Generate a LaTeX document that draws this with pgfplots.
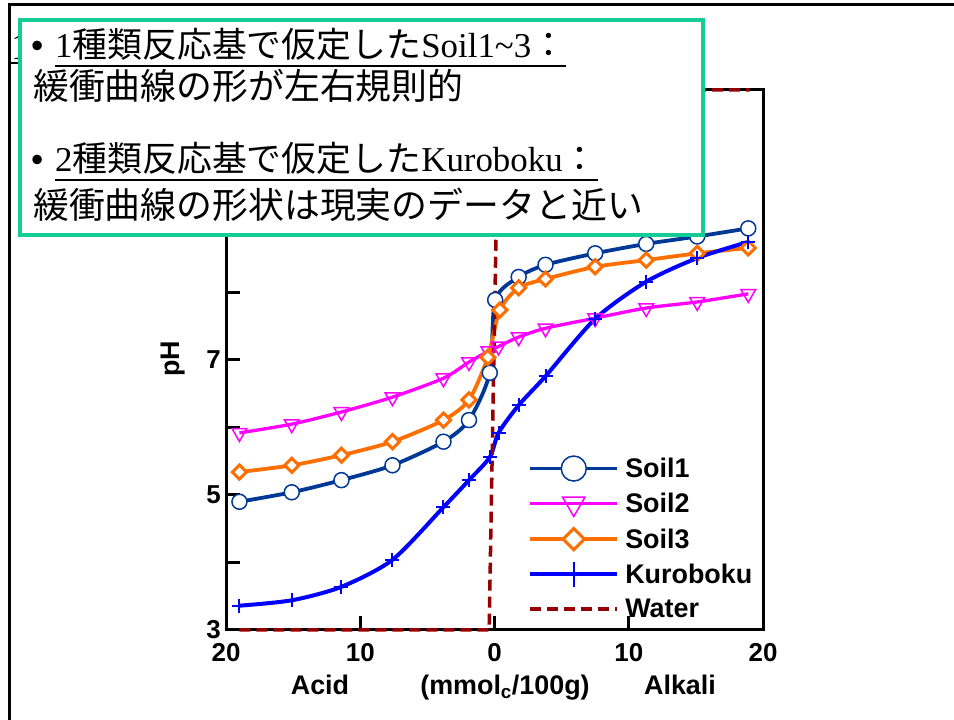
\documentclass[border=0pt]{standalone}
\usepackage{fontspec}
\usepackage{pgfplots}
\pgfplotsset{compat=1.18}
\setmainfont{Liberation Sans}
\newfontfamily\jp{Noto Sans CJK JP}
\newfontfamily\tms{Liberation Serif}

\definecolor{soilone}{RGB}{0,56,150}
\definecolor{soiltwo}{RGB}{255,0,255}
\definecolor{soilthree}{RGB}{255,110,0}
\definecolor{kuro}{RGB}{0,0,255}
\definecolor{water}{RGB}{150,0,0}
\definecolor{boxline}{RGB}{20,204,150}

\begin{document}
\begin{tikzpicture}[x=1bp,y=1bp]
\useasboundingbox (0,0) rectangle (954,720);
% slide frame
\draw[line width=3bp] (9,0) -- (9,715) -- (954,715);
% partly hidden heading behind the note box
\node[anchor=base west, inner sep=0pt, font=\tms\fontsize{38}{38}\selectfont] (h1) at (11,660) {1};
\draw[line width=1.5bp] ([yshift=-3bp]h1.base west) -- ([yshift=-3bp]h1.base east);

\begin{axis}[
  at={(226bp,90bp)}, anchor=south west,
  scale only axis, width=537bp, height=540bp,
  xmin=-20, xmax=20, ymin=3, ymax=11,
  clip=false,
  axis line style={line width=3bp},
  tick align=inside, tick pos=left,
  major tick length=14bp,
  every tick/.style={black, line width=3bp},
  xtick={-20,-10,0,10,20}, xticklabels={20,10,0,10,20},
  ytick={3,...,11}, yticklabels={3,,5,,7,,,,},
  ticklabel style={font=\fontsize{26}{26}\selectfont\bfseries},
  xticklabel style={yshift=-10bp},
  yticklabel style={inner sep=0pt, xshift=-5bp},
  legend style={draw=none, fill=none, at={(axis cs:2.5,5.58)}, anchor=north west,
    inner sep=0pt, row sep=12bp, column sep=6bp,
    font=\fontsize{27}{27}\selectfont\bfseries, nodes={inner sep=0pt}},
  legend cell align=left,
  legend image code/.code={\draw[mark repeat=2,mark phase=2,#1]
    plot coordinates {(0bp,0bp) (43.5bp,0bp) (87bp,0bp)};},
]
\addplot[soilone, line width=3.8bp, smooth, tension=0.45, mark=*, mark size=7.5bp,
  mark options={fill=white, draw=soilone, line width=1.5bp},
  legend image post style={mark size=12.5bp}] coordinates {
  (-19,4.90) (-15.1,5.04) (-11.4,5.22) (-7.6,5.44) (-3.8,5.79) (-1.9,6.11) (-0.35,6.81)
  (0.05,7.89) (1.8,8.23) (3.8,8.41) (7.5,8.58) (11.3,8.72) (15.1,8.83) (18.9,8.95)};
\addplot[soiltwo, line width=3.3bp, smooth, tension=0.45, mark=triangle, mark size=8.5bp,
  mark options={rotate=180, line width=1.5bp},
  legend image post style={mark size=13bp}] coordinates {
  (-19,5.92) (-15.1,6.05) (-11.4,6.23) (-7.6,6.45) (-3.8,6.73) (-1.9,6.97) (-0.45,7.13)
  (0.3,7.20) (1.8,7.34) (3.8,7.47) (7.5,7.62) (11.3,7.77) (15.1,7.86) (18.9,7.98)};
\addplot[soilthree, line width=3.8bp, smooth, tension=0.45, mark=square*, mark size=5bp,
  mark options={rotate=45, fill=white, draw=soilthree, line width=3bp},
  legend image post style={mark size=7.5bp}] coordinates {
  (-19,5.34) (-15.1,5.44) (-11.4,5.59) (-7.6,5.79) (-3.8,6.11) (-1.9,6.41) (-0.5,7.04)
  (0.4,7.74) (1.8,8.07) (3.8,8.20) (7.5,8.38) (11.3,8.48) (15.1,8.58) (18.9,8.66)};
\addplot[kuro, line width=4bp, smooth, tension=0.45, mark=+, mark size=7bp,
  mark options={line width=2bp},
  legend image post style={mark size=12.5bp}] coordinates {
  (-19,3.36) (-15.1,3.44) (-11.4,3.64) (-7.6,4.04) (-3.8,4.82) (-1.9,5.22) (-0.35,5.56)
  (0.3,5.92) (1.8,6.33) (3.8,6.76) (7.5,7.61) (11.3,8.16) (15.1,8.51) (18.9,8.75)};
\addplot[water, line width=3.5bp, sharp plot, dash pattern=on 11bp off 6bp] coordinates {
  (-19,3) (-0.4,3) (0.3,11) (19,11)};
\legend{Soil1,Soil2,Soil3,Kuroboku,Water}
\end{axis}

% axis captions
\node[anchor=base, font=\fontsize{27}{27}\selectfont\bfseries] at (320,25) {Acid};
\node[anchor=base, font=\fontsize{27}{27}\selectfont\bfseries] at (505,25) {(mmol\textsubscript{c}/100g)};
\node[anchor=base, font=\fontsize{27}{27}\selectfont\bfseries] at (680,25) {Alkali};
\node[anchor=base, rotate=90, font=\fontsize{27}{27}\selectfont\bfseries] at (179,361) {pH};

% note box
\draw[boxline, line width=3.5bp, fill=white] (20,700) rectangle (703,485);
\node[anchor=base west, inner sep=0pt, font=\fontsize{35}{35}\selectfont] at (31,662) {•};
\node[anchor=base west, inner sep=0pt, font=\fontsize{35}{35}\selectfont] (l1) at (55,662)
  {\tms 1\jp 種類反応基で仮定した\tms Soil1\textasciitilde3\jp ：};
\draw[line width=1.6bp] ([yshift=-8bp]l1.base west) -- ([yshift=-8bp]l1.base east);
\node[anchor=base west, inner sep=0pt, font=\jp\fontsize{36}{36}\selectfont] at (33,620)
  {緩衝曲線の形が左右規則的};
\node[anchor=base west, inner sep=0pt, font=\fontsize{35}{35}\selectfont] at (31,548) {•};
\node[anchor=base west, inner sep=0pt, font=\fontsize{35}{35}\selectfont] (l3) at (55,548)
  {\tms 2\jp 種類反応基で仮定した\tms Kuroboku\jp ：};
\draw[line width=1.6bp] ([yshift=-8bp]l3.base west) -- ([yshift=-8bp]l3.base east);
\node[anchor=base west, inner sep=0pt, font=\jp\fontsize{36}{36}\selectfont] at (33,501)
  {緩衝曲線の形状は現実のデータと近い};
\end{tikzpicture}
\end{document}
